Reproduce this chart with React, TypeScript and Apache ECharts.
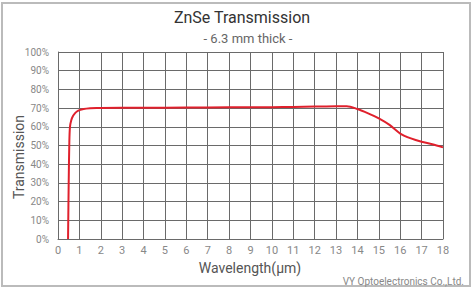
import React, { useEffect, useRef } from "react";
import * as echarts from "echarts";

const wavelength = [0.47, 0.5, 0.53, 0.56, 0.62, 0.7, 0.8, 0.9, 1.0, 1.2, 1.5, 1.8, 2, 4, 6, 8, 10, 11, 12, 13, 13.5, 14, 14.5, 15, 15.5, 16, 16.5, 17, 17.5, 18];
const transmission = [0, 30, 52, 60, 63.5, 65.8, 67.3, 68.3, 68.9, 69.5, 69.9, 70.1, 70.1, 70.2, 70.3, 70.4, 70.5, 70.6, 70.8, 71, 71, 69.5, 67.2, 64.5, 61, 56.4, 53.8, 52, 50.7, 49];

const titleText = "ZnSe Transmission";
const subtitleText = "- 6.3 mm thick -";
const xName = "Wavelength(μm)";
const yName = "Transmission";
const footer = "VY Optoelectronics Co.,Ltd.";

export default function App() {
  const ref = useRef<HTMLDivElement>(null);
  useEffect(() => {
    document.body.style.margin = "0";
    const chart = echarts.init(ref.current!, null, { renderer: "svg" });
    const font = "Roboto, 'Noto Sans', sans-serif";
    const gridColor = "#6a6a6a";
    chart.setOption({
      animation: false,
      backgroundColor: "#fff",
      textStyle: { fontFamily: font },
      grid: { left: 58, right: 31, top: 52, bottom: 49, containLabel: false },
      xAxis: {
        type: "value",
        min: 0,
        max: 18,
        interval: 1,
        axisLine: { show: true, lineStyle: { color: gridColor, width: 1 } },
        axisTick: { show: false },
        axisLabel: { color: "#888", fontSize: 11, margin: 6, fontFamily: font },
        splitLine: { show: true, lineStyle: { color: gridColor, width: 1 } },
      },
      yAxis: {
        type: "value",
        min: 0,
        max: 100,
        interval: 10,
        axisLine: { show: true, lineStyle: { color: gridColor, width: 1 } },
        axisTick: { show: false },
        axisLabel: { color: "#888", fontSize: 10, margin: 9, formatter: "{value}%", fontFamily: font },
        splitLine: { show: true, lineStyle: { color: gridColor, width: 1 } },
      },
      series: [
        {
          type: "line",
          data: wavelength.map((w, i) => [w, transmission[i]]),
          showSymbol: false,
          smooth: 0.3,
          lineStyle: { color: "#e0202c", width: 2 },
          itemStyle: { color: "#e0202c" },
        },
      ],
      graphic: [
        {
          type: "rect",
          shape: { x: 2, y: 3, width: 468, height: 283 },
          style: { fill: "none", stroke: "#bbbbbb", lineWidth: 2 },
          silent: true,
        },
        {
          type: "text",
          x: 242,
          y: 17,
          style: { text: titleText, fill: "#333", font: `16px ${font}`, textAlign: "center", textVerticalAlign: "middle" },
        },
        {
          type: "text",
          x: 248,
          y: 38,
          style: { text: subtitleText, fill: "#666", font: `13px ${font}`, textAlign: "center", textVerticalAlign: "middle" },
        },
        {
          type: "text",
          x: 250,
          y: 268,
          style: { text: xName, fill: "#555", font: `14px ${font}`, textAlign: "center", textVerticalAlign: "middle" },
        },
        {
          type: "text",
          x: 19,
          y: 157,
          rotation: Math.PI / 2,
          style: { text: yName, fill: "#555", font: `14px ${font}`, textAlign: "center", textVerticalAlign: "middle" },
        },
        {
          type: "text",
          x: 464,
          y: 281,
          style: { text: footer, fill: "#888", font: `10px ${font}`, textAlign: "right", textVerticalAlign: "middle" },
        },
      ],
    });
    return () => chart.dispose();
  }, []);
  return <div ref={ref} style={{ width: 474, height: 288 }} />;
}
